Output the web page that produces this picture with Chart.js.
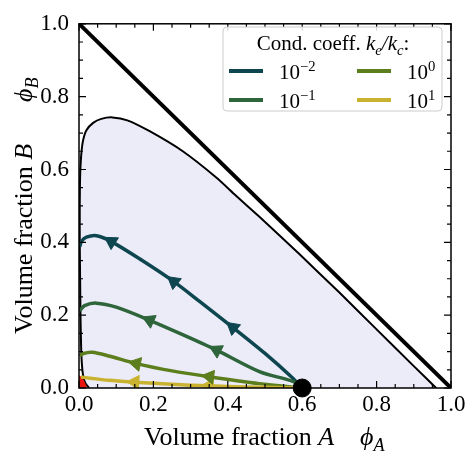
<!DOCTYPE html>
<html>
<head>
<meta charset="utf-8">
<script src="https://cdn.jsdelivr.net/npm/chart.js@4.4.1/dist/chart.umd.min.js"></script>
<style>
  html, body { margin: 0; padding: 0; background: #fff; }
  #wrap { width: 474px; height: 461px; }
</style>
</head>
<body>
<div id="wrap"><canvas id="phaseChart"></canvas></div>
<script>
const SERIF = '"Liberation Serif", "Times New Roman", "DejaVu Serif", serif';

// phi_A + phi_B = 1
const simplexLine = [[0, 1], [1, 0]];

// binodal
const binodal = [
  [0.027, 0], [0.018, 0.012], [0.013, 0.025], [0.009, 0.05], [0.006, 0.1],
  [0.004, 0.2], [0.003, 0.3], [0.002, 0.4], [0.002, 0.5], [0.003, 0.58],
  [0.006, 0.64], [0.011, 0.68], [0.02, 0.708], [0.038, 0.728], [0.06, 0.739],
  [0.09, 0.743], [0.13, 0.735], [0.19, 0.705], [0.279, 0.650], [0.369, 0.578],
  [0.42, 0.530], [0.485, 0.470], [0.593, 0.367], [0.7, 0.262], [0.8, 0.161],
  [0.9, 0.06], [0.96, 0]
];

// small red region at the origin
const originPatch = [[0, 0], [0, 0.034], [0.007, 0.03], [0.013, 0.021], [0.018, 0.01], [0.022, 0]];

// starting composition
const startPoint = [[0.6, 0]];

// legend: k_e/k_c = 10^exp
const coeffExponents = ['\u22122', '\u22121', '0', '1'];
const coeffColors = ['#0e4650', '#2e653a', '#5c7e1c', '#c9b22f'];

// trajectories, from the start point towards phi_A = 0
const trajM2 = [[0.6, 0], [0.575, 0.027], [0.5, 0.095], [0.414, 0.166], [0.325, 0.237], [0.255, 0.292],
  [0.17, 0.35], [0.087, 0.402], [0.047, 0.418], [0.02, 0.414], [0.007, 0.403], [0.002, 0.388]];
const trajM1 = [[0.6, 0], [0.575, 0.018], [0.485, 0.045], [0.37, 0.104], [0.28, 0.146], [0.19, 0.186],
  [0.1, 0.222], [0.047, 0.233], [0.015, 0.226], [0.002, 0.212]];
const traj0 = [[0.6, 0], [0.485, 0.012], [0.35, 0.031], [0.25, 0.047], [0.154, 0.067], [0.08, 0.088],
  [0.035, 0.098], [0.01, 0.094], [0.002, 0.088]];
const traj1 = [[0.6, 0], [0.45, 0.003], [0.35, 0.006], [0.25, 0.01], [0.15, 0.016], [0.08, 0.021],
  [0.03, 0.027], [0.005, 0.03]];

// arrow heads on each trajectory
const arrowsM2 = [[0.414, 0.166], [0.255, 0.292], [0.087, 0.402]];
const arrowsM1 = [[0.37, 0.104], [0.19, 0.186]];
const arrows0 = [[0.351, 0.031], [0.154, 0.067]];
const arrows1 = [[0.35, 0.006], [0.15, 0.016]];

const trajectories = [trajM2, trajM1, traj0, traj1];
const arrowSets = [arrowsM2, arrowsM1, arrows0, arrows1];

const xTicks = [0, 0.2, 0.4, 0.6, 0.8, 1.0];
const yTicks = [0, 0.2, 0.4, 0.6, 0.8, 1.0];

const pts = arr => arr.map(p => ({x: p[0], y: p[1]}));

// direction of travel at an arrow, from the trajectory it sits on
function arrowAngle(traj, p) {
  for (let i = 0; i < traj.length - 1; i++) {
    const a = traj[i], b = traj[i + 1];
    if (p[0] <= a[0] && p[0] >= b[0]) {
      return Math.atan2(b[0] - a[0], b[1] - a[1]) * 180 / Math.PI;
    }
  }
  return -90;
}

const datasets = [];
datasets.push({
  data: pts(binodal), showLine: true, borderColor: '#000', borderWidth: 2,
  backgroundColor: '#ececf9', fill: 'shape', tension: 0.2, pointRadius: 0, order: 10
});
datasets.push({
  data: pts(originPatch), showLine: true, borderWidth: 0, borderColor: 'rgba(0,0,0,0)',
  backgroundColor: '#e8140e', fill: 'shape', tension: 0.3, pointRadius: 0, order: 9
});
datasets.push({
  data: pts(simplexLine), showLine: true, borderColor: '#000', borderWidth: 4,
  pointRadius: 0, fill: false, order: 8
});
trajectories.forEach((traj, k) => {
  datasets.push({
    data: pts(traj), showLine: true, borderColor: coeffColors[k], borderWidth: 3.5,
    tension: 0.3, pointRadius: 0, fill: false, order: 4 - k
  });
  datasets.push({
    data: pts(arrowSets[k]), showLine: false, pointStyle: 'triangle', pointRadius: 8,
    pointRotation: arrowSets[k].map(p => arrowAngle(traj, p)),
    backgroundColor: coeffColors[k], borderColor: coeffColors[k], pointBorderWidth: 1, order: 0
  });
});
// the black start point sits on top and may cross the axis
datasets.push({
  data: pts(startPoint), showLine: false, pointRadius: 9, backgroundColor: '#000',
  borderColor: '#000', clip: false, order: -1
});

// draw a string made of roman / italic / sub / superscript pieces
function drawRuns(ctx, runs, x, y, size, align) {
  const fontOf = r => (r.it ? 'italic ' : '') + ((r.sub || r.sup) ? size * 0.7 : size) + 'px ' + SERIF;
  let total = 0;
  runs.forEach(r => { ctx.font = fontOf(r); total += ctx.measureText(r.t).width; });
  let cx = align === 'center' ? x - total / 2 : x;
  ctx.textAlign = 'left';
  ctx.textBaseline = 'alphabetic';
  runs.forEach(r => {
    ctx.font = fontOf(r);
    let dy = 0;
    if (r.sub) dy = size * 0.22;
    if (r.sup) dy = -size * 0.4;
    ctx.fillText(r.t, cx, y + dy);
    cx += ctx.measureText(r.t).width;
  });
}

const framePlugin = {
  id: 'frameAndLabels',
  afterDraw(chart) {
    const ctx = chart.ctx;
    const a = chart.chartArea;
    const xs = chart.scales.x, ys = chart.scales.y;
    ctx.save();
    ctx.strokeStyle = '#000';
    ctx.fillStyle = '#000';
    ctx.lineWidth = 1.5;
    ctx.strokeRect(a.left, a.top, a.right - a.left, a.bottom - a.top);

    // inward ticks on all four sides, minor every 0.05
    ctx.lineWidth = 1.2;
    for (let i = 0; i <= 20; i++) {
      const v = i * 0.05;
      const len = i % 4 === 0 ? 7 : 4;
      const px = xs.getPixelForValue(v), py = ys.getPixelForValue(v);
      ctx.beginPath();
      ctx.moveTo(px, a.bottom); ctx.lineTo(px, a.bottom - len);
      ctx.moveTo(px, a.top); ctx.lineTo(px, a.top + len);
      ctx.moveTo(a.left, py); ctx.lineTo(a.left + len, py);
      ctx.moveTo(a.right, py); ctx.lineTo(a.right - len, py);
      ctx.stroke();
    }

    // axis titles
    drawRuns(ctx, [{t: 'Volume fraction '}, {t: 'A', it: true}], 144, 445, 26, 'left');
    drawRuns(ctx, [{t: '\u03d5', it: true}, {t: 'A', it: true, sub: true}], 360, 445, 26, 'left');
    ctx.save();
    ctx.translate(32, 334);
    ctx.rotate(-Math.PI / 2);
    drawRuns(ctx, [{t: 'Volume fraction '}, {t: 'B', it: true}], 0, 0, 26, 'left');
    ctx.restore();
    ctx.save();
    ctx.translate(32, 102);
    ctx.rotate(-Math.PI / 2);
    drawRuns(ctx, [{t: '\u03d5', it: true}, {t: 'B', it: true, sub: true}], 0, 0, 26, 'left');
    ctx.restore();

    // legend box
    ctx.beginPath();
    ctx.roundRect(223, 27, 219, 84, 4);
    ctx.fillStyle = 'rgba(255,255,255,0.85)';
    ctx.fill();
    ctx.strokeStyle = '#cccccc';
    ctx.lineWidth = 1;
    ctx.stroke();
    ctx.fillStyle = '#000';
    drawRuns(ctx, [{t: 'Cond. coeff. '}, {t: 'k', it: true}, {t: 'e', it: true, sub: true},
      {t: '/', it: true}, {t: 'k', it: true}, {t: 'c', it: true, sub: true}, {t: ':'}], 333, 50, 21, 'center');
    coeffExponents.forEach((ex, i) => {
      const col = Math.floor(i / 2), row = i % 2;
      const lx = col === 0 ? 229 : 357;
      const ly = row === 0 ? 71 : 100;
      ctx.strokeStyle = coeffColors[i];
      ctx.lineWidth = 4;
      ctx.beginPath();
      ctx.moveTo(lx, ly); ctx.lineTo(lx + 34, ly);
      ctx.stroke();
      ctx.fillStyle = '#000';
      drawRuns(ctx, [{t: '10'}, {t: ex, sup: true}], lx + 50, ly + 8, 21, 'left');
    });
    ctx.restore();
  }
};

new Chart(document.getElementById('phaseChart'), {
  type: 'scatter',
  data: {datasets: datasets},
  options: {
    responsive: true,
    maintainAspectRatio: false,
    animation: false,
    layout: {padding: {left: 0, top: 16, right: 23, bottom: 0}},
    plugins: {legend: {display: false}, tooltip: {enabled: false}},
    scales: {
      x: {
        type: 'linear', min: 0, max: 1,
        afterBuildTicks: s => { s.ticks = xTicks.map(v => ({value: v})); },
        ticks: {callback: v => v.toFixed(1), color: '#000', padding: 3, maxRotation: 0,
          font: {family: SERIF, size: 23}},
        grid: {display: false, drawTicks: false}, border: {display: false},
        afterFit: s => { s.height = 73; }
      },
      y: {
        type: 'linear', min: 0, max: 1,
        afterBuildTicks: s => { s.ticks = yTicks.map(v => ({value: v})); },
        ticks: {callback: v => v.toFixed(1), color: '#000', padding: 10,
          font: {family: SERIF, size: 23}},
        grid: {display: false, drawTicks: false}, border: {display: false},
        afterFit: s => { s.width = 79; }
      }
    }
  },
  plugins: [framePlugin]
});
</script>
</body>
</html>
